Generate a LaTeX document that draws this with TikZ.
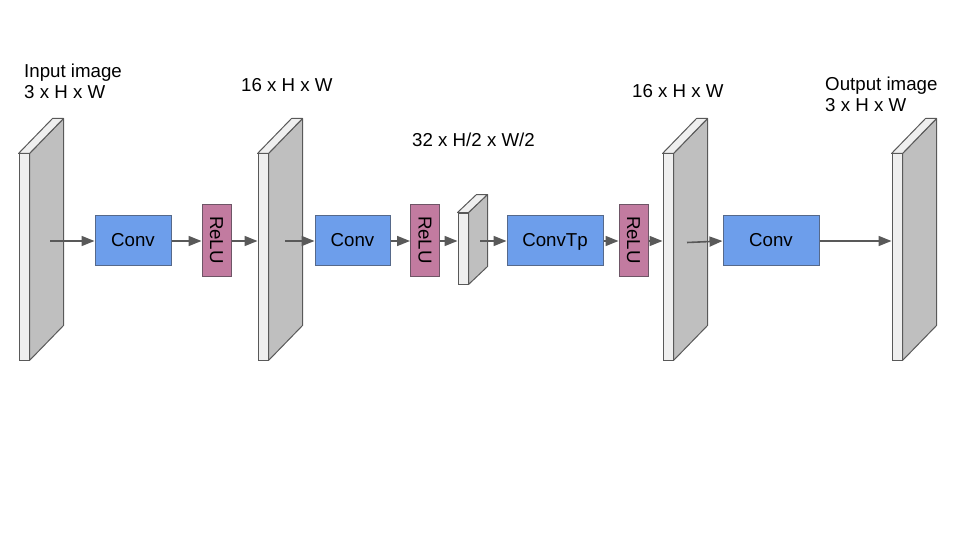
\documentclass[tikz,border=0pt]{standalone}
\usepackage{fontspec}
\setmainfont{Liberation Sans}
\usepackage{graphicx}
\usetikzlibrary{arrows.meta}

\definecolor{slabfront}{HTML}{EFEFEF}
\definecolor{slabside}{HTML}{BFBFBF}
\definecolor{edgegrey}{HTML}{595959}
\definecolor{convblue}{HTML}{6D9EEB}
\definecolor{convedge}{HTML}{56698A}
\definecolor{relupink}{HTML}{C27BA0}
\definecolor{reluedge}{HTML}{6E5566}

\tikzset{
  txt/.style={font=\fontsize{18.7}{22}\selectfont, inner sep=0pt},
  label/.style={txt, anchor=base west},
  slabfront/.style={draw=edgegrey, fill=slabfront, line width=1pt, inner sep=0pt,
                    minimum width=10pt},
  sideface/.style={draw=edgegrey, fill=slabside, line width=1pt, line join=round},
  topface/.style={draw=edgegrey, fill=slabfront, line width=1pt, line join=round},
  convbox/.style={txt, draw=convedge, fill=convblue, line width=1pt, minimum height=50pt,
                  text height=13.4pt, text depth=0pt},
  relubox/.style={txt, draw=reluedge, fill=relupink, line width=1pt,
                  minimum width=29pt, minimum height=72pt},
  flow/.style={draw=edgegrey, line width=1.6pt,
               -{Triangle[length=13pt,width=10pt]}},
}

% a feature-map slab: front face node, then its right side and top
\newcommand\slabdepth[3]{%
  \filldraw[sideface] (#1.north east) -- ++(#2,-#3)
    -- ([shift={(#2,-#3)}]#1.south east) -- (#1.south east) -- cycle;
  \filldraw[topface] (#1.north west) -- ++(#2,-#3)
    -- ([shift={(#2,-#3)}]#1.north east) -- (#1.north east) -- cycle;
}

\begin{document}
\begin{tikzpicture}[x=1pt, y=-1pt]
\useasboundingbox (0,0) rectangle (960,540);

% feature maps
\node[slabfront, minimum height=206pt] (s1) at (24,257) {};
\slabdepth{s1}{34}{35}
\node[slabfront, minimum height=206pt] (s2) at (263,257) {};
\slabdepth{s2}{34}{35}
\node[slabfront, minimum height=71pt] (s3) at (463,248.5) {};
\slabdepth{s3}{19}{18}
\node[slabfront, minimum height=206pt] (s4) at (668,257) {};
\slabdepth{s4}{34}{35}
\node[slabfront, minimum height=206pt] (s5) at (897,257) {};
\slabdepth{s5}{34}{35}

% layers
\node[convbox, minimum width=76pt] (conv1) at (133,240) {Conv};
\node[relubox] (relu1) at (216.5,240) {\rotatebox{-90}{ReLU}};
\node[convbox, minimum width=75pt] (conv2) at (352.5,240) {Conv};
\node[relubox] (relu2) at (425,240) {\rotatebox{-90}{ReLU}};
\node[convbox, minimum width=96pt] (convtp) at (555,240) {ConvTp};
\node[relubox] (relu3) at (633.5,240) {\rotatebox{-90}{ReLU}};
\node[convbox, minimum width=96pt] (conv3) at (771,240) {Conv};

% arrow starts inside the slabs
\coordinate (p1) at (50,241);
\coordinate (p2) at (285,241);
\coordinate (p3) at (480,241);
\coordinate (p4) at (687,242.5);

% connectors
\draw[flow] (p1) -- (p1 -| conv1.west);
\draw[flow] (conv1.east |- p1) -- (p1 -| relu1.west);
\draw[flow] (relu1.east |- p1) -- (p1 -| s2.west);
\draw[flow] (p2) -- (p2 -| conv2.west);
\draw[flow] (conv2.east |- p2) -- (p2 -| relu2.west);
\draw[flow] (relu2.east |- p2) -- (p2 -| s3.west);
\draw[flow] (p3) -- (p3 -| convtp.west);
\draw[flow] (convtp.east |- p3) -- (p3 -| relu3.west);
\draw[flow] (relu3.east |- p3) -- (p3 -| s4.west);
\draw[flow] (p4) -- (conv3.west |- p1);
\draw[flow] (conv3.east |- p1) -- (p1 -| s5.west);

% shape labels
\node[label] (in1) at (24,78) {Input image};
\node[label] (in2) at (24,99) {3 x H x W};
\node[label] (d1) at (241,92) {16 x H x W};
\node[label] (d2) at (412,147) {32 x H/2 x W/2};
\node[label] (d3) at (632,98) {16 x H x W};
\node[label] (out1) at (825,91) {Output image};
\node[label] (out2) at (825,112) {3 x H x W};
\end{tikzpicture}
\end{document}
